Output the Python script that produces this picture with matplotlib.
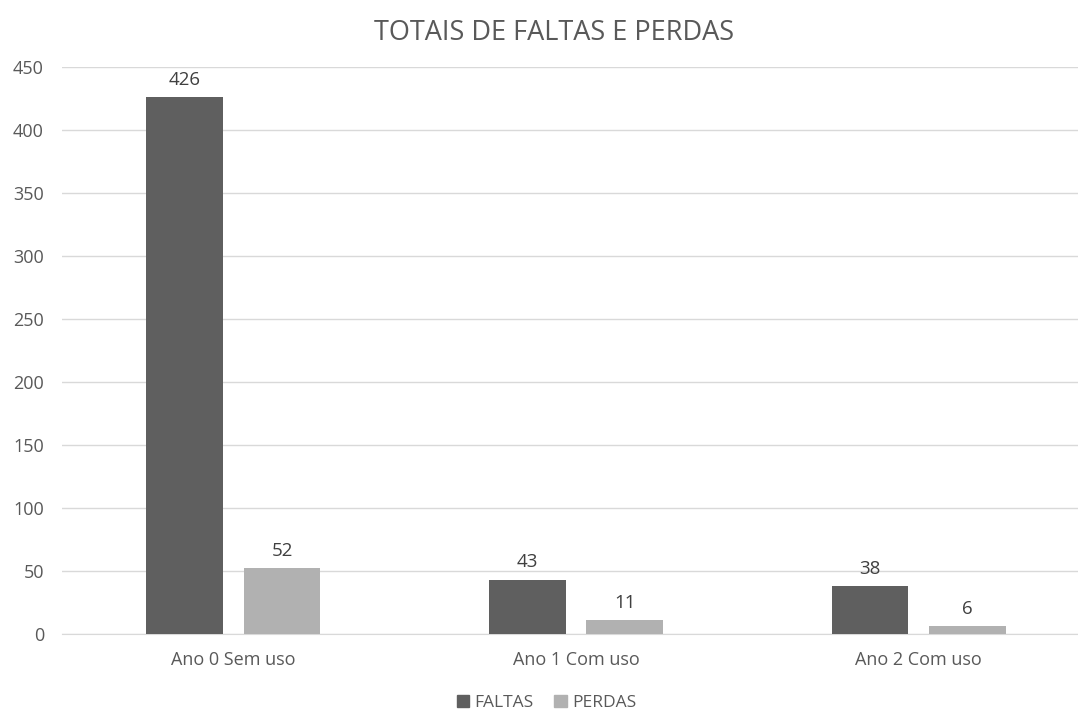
import matplotlib.pyplot as plt
import numpy as np
from matplotlib.patches import Patch

# dados
categorias = ["Ano 0 Sem uso", "Ano 1 Com uso", "Ano 2 Com uso"]
faltas = [426, 43, 38]
perdas = [52, 11, 6]
yticks = [0, 50, 100, 150, 200, 250, 300, 350, 400, 450]

plt.rcParams['font.family'] = ['Open Sans', 'DejaVu Sans']
cor_texto = "#595959"
cor_faltas = "#5f5f5f"
cor_perdas = "#b1b1b1"

fig = plt.figure(figsize=(10.78, 7.11), dpi=100)
ax = fig.add_axes([0.0575, 0.1083, 0.9536, 0.798])

x = np.arange(len(categorias))
w = 0.2235
off = 0.142
b1 = ax.bar(x - off, faltas, w, color=cor_faltas, label="FALTAS", zorder=3)
b2 = ax.bar(x + off, perdas, w, color=cor_perdas, label="PERDAS", zorder=3)

for barras in (b1, b2):
    for b in barras:
        ax.annotate(str(int(b.get_height())), (b.get_x() + b.get_width() / 2, b.get_height()),
                    xytext=(0, 6), textcoords="offset points", ha="center", va="bottom",
                    fontsize=13.5, color="#404040")

ax.set_xlim(-0.5, 2.5)
ax.set_ylim(0, 450)
ax.set_yticks(yticks)
ax.set_xticks(x)
ax.set_xticklabels(categorias)
ax.tick_params(axis="both", length=0, labelsize=13, colors=cor_texto)
ax.tick_params(axis="x", pad=12)
ax.tick_params(axis="y", pad=13)
ax.grid(axis="y", color="#d9d9d9", linewidth=1, zorder=0)
for s in ["top", "right", "left"]:
    ax.spines[s].set_visible(False)
ax.spines["bottom"].set_color("#d9d9d9")

fig.text(0.514, 0.953, "TOTAIS DE FALTAS E PERDAS", ha="center", va="center",
         fontsize=19.5, color=cor_texto)

handles = [Patch(color=cor_faltas, label="FALTAS"), Patch(color=cor_perdas, label="PERDAS")]
fig.legend(handles=handles, loc="center", bbox_to_anchor=(0.507, 0.011), ncol=2, frameon=False,
           fontsize=12.5, labelcolor=cor_texto, handlelength=0.7, handleheight=0.7,
           handletextpad=0.3, columnspacing=1.2)

fig.savefig("out.png", dpi=100)
